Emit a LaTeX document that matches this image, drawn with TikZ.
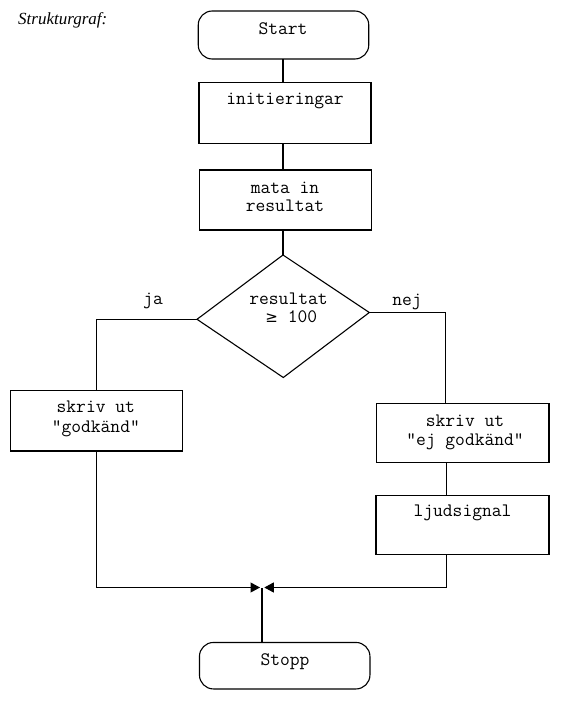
\documentclass[tikz,border=0pt]{standalone}
\usepackage{fontspec}
\setmainfont{Liberation Serif}
\newfontfamily\symfont{DejaVu Sans}
\usetikzlibrary{arrows.meta}
\begin{document}
\begin{tikzpicture}[x=1pt,y=-1pt,
  line/.style={draw=black, line width=1.1pt},
  box/.style={draw=black, line width=1.1pt, inner sep=0pt, outer sep=0pt},
  term/.style={box, rounded corners=14pt},
  txt/.style={font=\fontsize{19}{21}\selectfont\ttfamily, inner sep=0pt, anchor=base},
  joinarrow/.style={-{Triangle[length=9.5pt,width=10pt]}}
]
\useasboundingbox (0,0) rectangle (567,704);

% heading
\node[font=\fontsize{17}{20}\selectfont\itshape, anchor=base west, inner sep=0pt]
  (title) at (18,24) {Strukturgraf:};

% blocks
\node[term, minimum width=170.5pt, minimum height=48pt] (start) at (283.5,35) {};
\node[box, minimum width=172pt, minimum height=60.5pt] (init) at (285,113) {};
\node[box, minimum width=172.5pt, minimum height=60pt] (mata) at (285.3,200) {};
\node[box, minimum width=172.5pt, minimum height=60.3pt] (gok) at (96.3,420.8) {};
\node[box, minimum width=172.3pt, minimum height=59.2pt] (ejg) at (462.8,433) {};
\node[box, minimum width=173pt, minimum height=59.5pt] (ljud) at (462.5,524.8) {};
\node[term, minimum width=170.5pt, minimum height=46.5pt] (stopp) at (284.7,665.7) {};

% decision
\coordinate (dt) at (283,255);
\coordinate (dl) at (197,319.3);
\coordinate (dr) at (369.3,312.5);
\coordinate (db) at (283.3,377.5);
\draw[line, line join=miter] (dt) -- (dr) -- (db) -- (dl) -- cycle;

% texts
\node[txt] (tstart) at (283,34.3) {Start};
\node[txt] (tinit) at (285,104.3) {initieringar};
\node[txt] (tmata1) at (285,193.3) {mata in};
\node[txt] (tmata2) at (285,211) {resultat};
\node[txt] (tres1) at (288.5,304) {resultat};
\node[txt] (tres2) at (291.3,322.7) {{\symfont\fontsize{15}{17}\selectfont ≥} 100};
\node[txt] (tja) at (153,304) {ja};
\node[txt] (tnej) at (407,305) {nej};
\node[txt] (tgok1) at (95.8,412.3) {skriv ut};
\node[txt] (tgok2) at (95.8,432.3) {"godkänd"};
\node[txt] (tejg1) at (465,426) {skriv ut};
\node[txt] (tejg2) at (465,445) {"ej godkänd"};
\node[txt] (tljud) at (462.5,516) {ljudsignal};
\node[txt] (tstopp) at (285,665) {Stopp};

% connectors
\coordinate (rl) at (445.3,0);
\coordinate (rb) at (446.7,0);
\coordinate (m) at (262,587.5);
\coordinate (ltip) at (260,587.5);
\coordinate (rtip) at (264.3,587.5);

\draw[line] (dt |- start.south) -- (dt |- init.north);
\draw[line] (dt |- init.south) -- (dt |- mata.north);
\draw[line] (dt |- mata.south) -- (dt);
\draw[line] (dl) -| (gok.north);
\draw[line] (dr) -| (rl |- ejg.north);
\draw[line] (rb |- ejg.south) -- (rb |- ljud.north);
\draw[line, joinarrow] (gok.south) |- (ltip);
\draw[line, joinarrow] (rb |- ljud.south) |- (rtip);
\draw[line] (m |- stopp.north) -- (m);
\end{tikzpicture}
\end{document}
